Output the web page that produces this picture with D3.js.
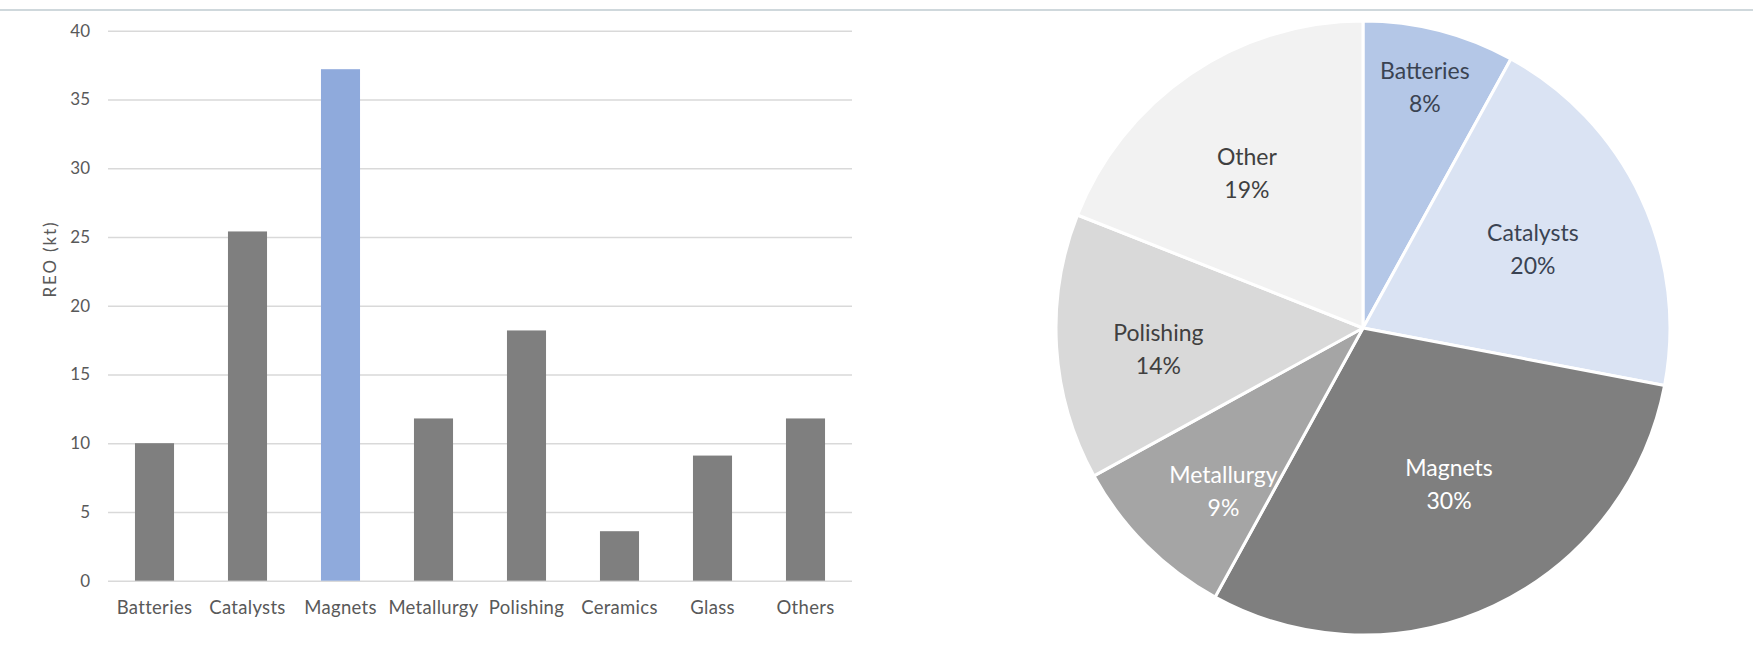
<!DOCTYPE html>
<html>
<head>
<meta charset="utf-8">
<script src="https://cdn.jsdelivr.net/npm/d3@7"></script>
<style>
  html, body { margin: 0; padding: 0; background: #ffffff; }
  svg { display: block; }
  text { font-family: Lato, "Open Sans", sans-serif; }
</style>
</head>
<body>
<svg id="chart" width="1753" height="659"></svg>
<script>
// Rare-earth oxide demand by application (kt REO)
const categories = ["Batteries", "Catalysts", "Magnets", "Metallurgy", "Polishing", "Ceramics", "Glass", "Others"];
const demandKt   = [10, 25.4, 37.2, 11.8, 18.2, 3.6, 9.1, 11.8];
const yTicks     = [0, 5, 10, 15, 20, 25, 30, 35, 40];
const highlight  = "Magnets";

// Share of demand, grouped
const shareLabels  = ["Batteries", "Catalysts", "Magnets", "Metallurgy", "Polishing", "Other"];
const sharePercent = [8, 20, 30, 9, 14, 19];
const shareColors  = ["#b4c7e7", "#dae3f3", "#7f7f7f", "#a5a5a5", "#d9d9d9", "#f2f2f2"];
const shareText    = ["#3a4352", "#3a4352", "#ffffff", "#ffffff", "#404040", "#404040"];
// label placement: radius fraction and angular nudge (degrees)
const labelRadius  = [0.81, 0.61, 0.58, 0.70, 0.67, 0.63];
const labelNudge   = [0, 0.3, -3.7, -4.5, -2.2, -2.7];

const svg = d3.select("#chart");

// thin rule across the top
svg.append("line")
  .attr("x1", 0).attr("x2", 1753)
  .attr("y1", 10).attr("y2", 10)
  .attr("stroke", "#cfd8dc").attr("stroke-width", 2);

// ---------- bar chart ----------
const plot = { left: 108, right: 852, top: 30.7, bottom: 580.7 };

const x = d3.scaleBand()
  .domain(categories)
  .range([plot.left, plot.right])
  .paddingInner(0.58)
  .paddingOuter(0.29);

const y = d3.scaleLinear()
  .domain([0, 40])
  .range([plot.bottom, plot.top]);

// gridlines + y tick labels
const yAxis = svg.append("g")
  .attr("transform", `translate(${plot.left},0)`)
  .call(d3.axisLeft(y)
    .tickValues(yTicks)
    .tickSize(-(plot.right - plot.left))
    .tickPadding(18)
    .tickFormat(d3.format("d")));
yAxis.select(".domain").remove();
yAxis.selectAll(".tick line").attr("stroke", "#d9d9d9").attr("stroke-width", 1.5);
yAxis.selectAll(".tick text")
  .attr("fill", "#595959")
  .style("font-size", "17px");

// bars
svg.append("g").selectAll("rect")
  .data(categories.map((c, i) => ({ c, v: demandKt[i] })))
  .join("rect")
  .attr("x", d => x(d.c))
  .attr("width", x.bandwidth())
  .attr("y", d => y(d.v))
  .attr("height", d => y(0) - y(d.v))
  .attr("fill", d => d.c === highlight ? "#8faadc" : "#7f7f7f");

// category labels
const xAxis = svg.append("g")
  .attr("transform", `translate(0,${plot.bottom})`)
  .call(d3.axisBottom(x).tickSize(0).tickPadding(20));
xAxis.select(".domain").remove();
xAxis.selectAll(".tick text")
  .attr("fill", "#595959")
  .style("font-size", "18.5px")
  .style("letter-spacing", "0.3px")
  .attr("dy", "0.71em");

// y axis title
svg.append("text")
  .attr("transform", `translate(56,260) rotate(-90)`)
  .attr("text-anchor", "middle")
  .attr("fill", "#595959")
  .style("font-size", "17px")
  .attr("textLength", 75)
  .attr("lengthAdjust", "spacing")
  .text("REO (kt)");

// ---------- pie chart ----------
const cx = 1363, cy = 328, R = 307;

const pie = d3.pie().sort(null).value(d => d.v);
const arcs = pie(shareLabels.map((l, i) => ({ l, v: sharePercent[i], i })));
const arc = d3.arc().innerRadius(0).outerRadius(R);

const pg = svg.append("g").attr("transform", `translate(${cx},${cy})`);

pg.selectAll("path")
  .data(arcs)
  .join("path")
  .attr("d", arc)
  .attr("fill", d => shareColors[d.data.i])
  .attr("stroke", "#ffffff")
  .attr("stroke-width", 3)
  .attr("stroke-linejoin", "round");

const labels = pg.selectAll("g.lbl")
  .data(arcs)
  .join("g")
  .attr("class", "lbl")
  .attr("transform", d => {
    const a = (d.startAngle + d.endAngle) / 2 + labelNudge[d.data.i] * Math.PI / 180;
    const r = labelRadius[d.data.i] * R;
    return `translate(${r * Math.sin(a)},${-r * Math.cos(a)})`;
  });

labels.append("text")
  .attr("text-anchor", "middle")
  .attr("y", -8)
  .attr("fill", d => shareText[d.data.i])
  .style("font-size", "23px")
  .text(d => d.data.l);

labels.append("text")
  .attr("text-anchor", "middle")
  .attr("y", 25)
  .attr("fill", d => shareText[d.data.i])
  .style("font-size", "23px")
  .text(d => d.data.v + "%");
</script>
</body>
</html>
